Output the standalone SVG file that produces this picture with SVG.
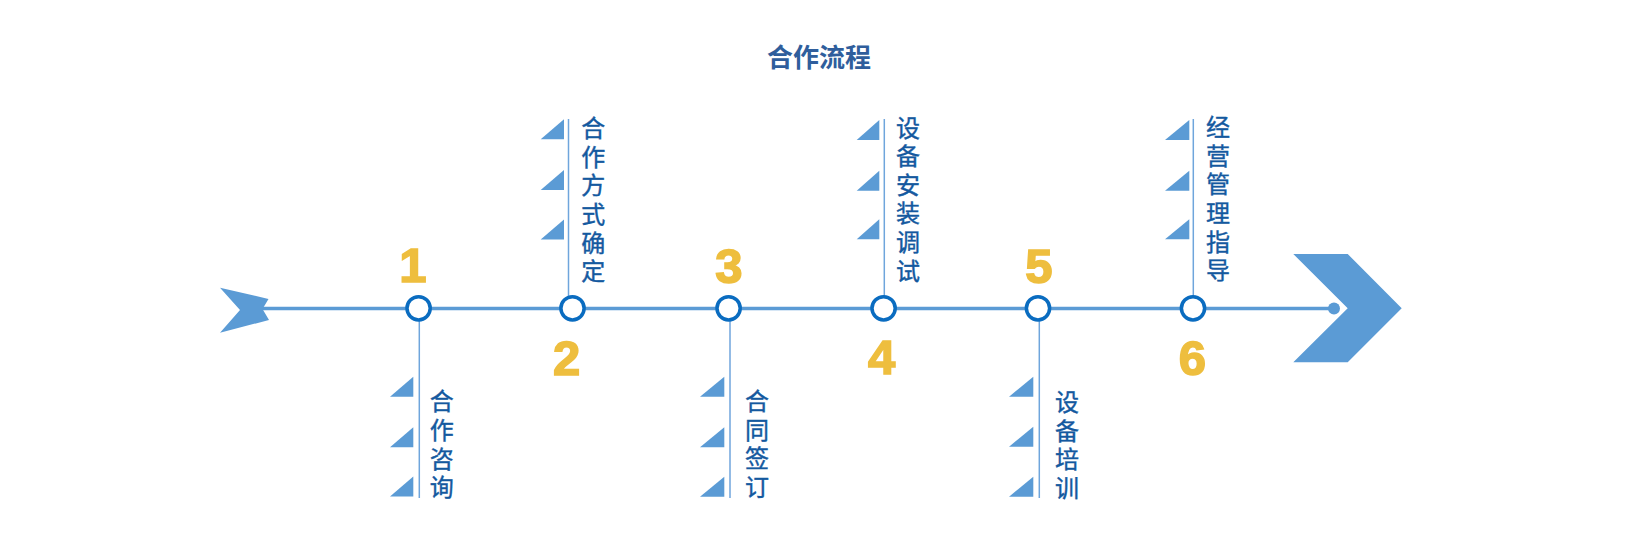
<svg xmlns="http://www.w3.org/2000/svg" width="1640" height="547" viewBox="0 0 1640 547">
<style>
.bg{fill:#ffffff}
.axis{stroke:#5b9bd5;stroke-width:3.5;fill:none}
.stem{stroke:#6fa5dc;stroke-width:1.5;fill:none}
.dot{fill:#ffffff;stroke:#0a6cc0;stroke-width:3.5}
.flag{fill:#5b9bd5}
.num{font-family:"Liberation Sans",Arial,sans-serif;font-weight:bold;font-size:49px;fill:#eebe3e;stroke:#eebe3e;stroke-width:1.6;text-anchor:middle}
.lbl{font-family:"Noto Sans CJK SC","Noto Sans",sans-serif;font-size:24px;fill:#14599f;stroke:#14599f;stroke-width:0.4;writing-mode:vertical-rl;text-orientation:upright;letter-spacing:4.6px;text-anchor:start}
.title{font-family:"Noto Sans CJK SC","Noto Sans",sans-serif;font-size:26px;font-weight:bold;fill:#2f5e9c;text-anchor:middle}
</style>
<rect class="bg" x="0" y="0" width="1640" height="547"/>
<text class="title" x="819" y="67">合作流程</text>

<g id="connectors">
  <line class="axis" x1="262" y1="308.5" x2="1334" y2="308.5"/>
  <line class="stem" x1="419.3" y1="318" x2="419.3" y2="498"/>
  <line class="stem" x1="568.5" y1="119" x2="568.5" y2="298"/>
  <line class="stem" x1="730" y1="318" x2="730" y2="498"/>
  <line class="stem" x1="884.3" y1="119" x2="884.3" y2="298"/>
  <line class="stem" x1="1039.3" y1="318" x2="1039.3" y2="498"/>
  <line class="stem" x1="1193.3" y1="119" x2="1193.3" y2="298"/>
</g>

<g id="start-arrow">
  <polygon class="flag" points="220,287.7 268.5,299 262.5,309 269,320 220,332.7 240,310"/>
</g>
<g id="end-arrow">
  <circle cx="1334" cy="308.5" r="6" fill="#5b9bd5"/>
  <polygon class="flag" points="1293.3,254 1347.7,254 1401.7,308.3 1347.7,362.3 1293.3,362.3 1347.7,308.3"/>
</g>

<g id="node1">
  <circle class="dot" cx="418.6" cy="308.3" r="11.6"/>
  <text class="num" x="413" y="282">1</text>
  <polygon class="flag" points="413.3,376.7 413.3,396.7 390,396.7"/>
  <polygon class="flag" points="413.3,427.3 413.3,447.3 390,447.3"/>
  <polygon class="flag" points="413.3,476.5 413.3,496.5 390,496.5"/>
  <text class="lbl" x="441.7" y="389.3">合作咨询</text>
</g>

<g id="node2">
  <circle class="dot" cx="572.5" cy="308.3" r="11.6"/>
  <text class="num" x="566.7" y="374.5">2</text>
  <polygon class="flag" points="564,119.3 564,139.3 540.7,139.3"/>
  <polygon class="flag" points="564,170 564,190 540.7,190"/>
  <polygon class="flag" points="564,219.5 564,239.5 540.7,239.5"/>
  <text class="lbl" x="593.3" y="116">合作方式确定</text>
</g>

<g id="node3">
  <circle class="dot" cx="728.6" cy="308.3" r="11.6"/>
  <text class="num" x="729" y="282.5">3</text>
  <polygon class="flag" points="724.3,376.7 724.3,396.7 700,396.7"/>
  <polygon class="flag" points="724.3,427.3 724.3,447.3 700,447.3"/>
  <polygon class="flag" points="724.3,476.7 724.3,496.7 700,496.7"/>
  <text class="lbl" x="757" y="388.8">合同签订</text>
</g>

<g id="node4">
  <circle class="dot" cx="883.6" cy="308.3" r="11.6"/>
  <text class="num" x="881.7" y="374">4</text>
  <polygon class="flag" points="879.3,120 879.3,140 856.7,140"/>
  <polygon class="flag" points="879.3,170.7 879.3,190.7 856.7,190.7"/>
  <polygon class="flag" points="879.3,219.3 879.3,239.3 856.7,239.3"/>
  <text class="lbl" x="908" y="115.5">设备安装调试</text>
</g>

<g id="node5">
  <circle class="dot" cx="1038" cy="308.3" r="11.6"/>
  <text class="num" x="1039" y="282.5">5</text>
  <polygon class="flag" points="1033.3,376.7 1033.3,396.7 1009,396.7"/>
  <polygon class="flag" points="1033.3,426.7 1033.3,446.7 1009,446.7"/>
  <polygon class="flag" points="1033.3,476.7 1033.3,496.7 1009,496.7"/>
  <text class="lbl" x="1067" y="389.8">设备培训</text>
</g>

<g id="node6">
  <circle class="dot" cx="1193" cy="308.3" r="11.6"/>
  <text class="num" x="1192.5" y="374.5">6</text>
  <polygon class="flag" points="1189.3,120 1189.3,140 1165,140"/>
  <polygon class="flag" points="1189.3,170.7 1189.3,190.7 1165,190.7"/>
  <polygon class="flag" points="1189.3,219.3 1189.3,239.3 1165,239.3"/>
  <text class="lbl" x="1218" y="115">经营管理指导</text>
</g>
</svg>
